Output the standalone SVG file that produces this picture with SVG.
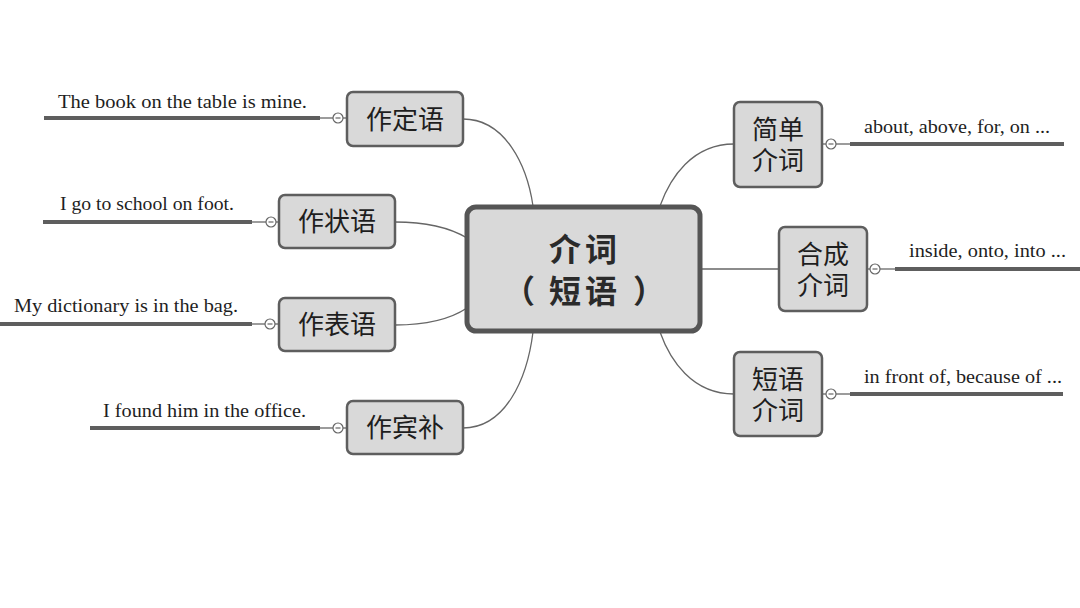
<svg xmlns="http://www.w3.org/2000/svg" width="1080" height="608" viewBox="0 0 1080 608">
<style>
.bg{fill:#ffffff}
.node rect{fill:#d9d9d9;stroke:#5e5e5e;stroke-width:2.5}
.root rect{fill:#d9d9d9;stroke:#555555;stroke-width:5}
.cn{font-family:"Noto Sans CJK SC","Noto Sans CJK JP",sans-serif;font-size:26px;fill:#1e1e1e;text-anchor:middle}
.rt{font-family:"Noto Sans CJK SC","Noto Sans CJK JP",sans-serif;font-size:32px;font-weight:bold;fill:#2a2a2a;text-anchor:middle}
.en{font-family:"Liberation Serif","DejaVu Serif",serif;font-size:18px;fill:#1e1e1e}
.conn path,.conn line{fill:none;stroke:#666666;stroke-width:1.3}
.bar{stroke:#5e5e5e;stroke-width:4}
.tog circle{fill:#ffffff;stroke:#666666;stroke-width:1.2}
.tog line{stroke:#666666;stroke-width:1.2}
</style>
<rect class="bg" x="0" y="0" width="1080" height="608"/>

<g id="connectors" class="conn">
  <path d="M463,119 C505,119 527,165 533,206"/>
  <path d="M395,222 C430,222 452,229 467,238"/>
  <path d="M395,325 C430,325 452,318 467,308"/>
  <path d="M463,428 C505,428 527,380 533,332"/>
  <path d="M734,144 C692,144 670,178 660,206"/>
  <line x1="701" y1="269" x2="779" y2="269"/>
  <path d="M734,394 C692,394 670,360 660,332"/>
  <line x1="343" y1="118" x2="347" y2="118"/>
  <line x1="276" y1="222" x2="279" y2="222"/>
  <line x1="275" y1="324" x2="279" y2="324"/>
  <line x1="343" y1="428" x2="347" y2="428"/>
  <line x1="822" y1="144" x2="826" y2="144"/>
  <line x1="867" y1="269" x2="870" y2="269"/>
  <line x1="822" y1="394" x2="826" y2="394"/>
  <line x1="320" y1="118" x2="333" y2="118"/>
  <line x1="252" y1="222" x2="266" y2="222"/>
  <line x1="252" y1="324" x2="265" y2="324"/>
  <line x1="320" y1="428" x2="333" y2="428"/>
  <line x1="836" y1="144" x2="850" y2="144"/>
  <line x1="880" y1="269" x2="895" y2="269"/>
  <line x1="836" y1="394" x2="850" y2="394"/>
</g>

<g id="root" class="root">
  <rect x="467" y="207" width="233" height="124" rx="9"/>
  <text class="rt"><tspan x="585" y="261" letter-spacing="4">介词</tspan><tspan x="519" y="303">（</tspan><tspan x="585" y="303" letter-spacing="4">短语</tspan><tspan x="649" y="303">）</tspan></text>
</g>

<g id="n-dingyu" class="node">
  <rect x="347" y="92" width="116" height="54" rx="6"/>
  <text class="cn" x="405" y="129">作定语</text>
</g>
<g id="n-dingyu-leaf">
  <line class="bar" x1="44" y1="118" x2="320" y2="118"/>
  <text class="en" x="58" y="108" textLength="249" lengthAdjust="spacingAndGlyphs">The book on the table is mine.</text>
  <g class="tog"><circle cx="338" cy="118" r="5"/><line x1="335.5" y1="118" x2="340.5" y2="118"/></g>
</g>

<g id="n-zhuangyu" class="node">
  <rect x="279" y="195" width="116" height="53" rx="6"/>
  <text class="cn" x="337" y="231">作状语</text>
</g>
<g id="n-zhuangyu-leaf">
  <line class="bar" x1="43" y1="222" x2="252" y2="222"/>
  <text class="en" x="60" y="210" textLength="174" lengthAdjust="spacingAndGlyphs">I go to school on foot.</text>
  <g class="tog"><circle cx="271" cy="222" r="5"/><line x1="268.5" y1="222" x2="273.5" y2="222"/></g>
</g>

<g id="n-biaoyu" class="node">
  <rect x="279" y="298" width="116" height="53" rx="6"/>
  <text class="cn" x="337" y="334">作表语</text>
</g>
<g id="n-biaoyu-leaf">
  <line class="bar" x1="0" y1="324" x2="252" y2="324"/>
  <text class="en" x="14" y="312" textLength="224" lengthAdjust="spacingAndGlyphs">My dictionary is in the bag.</text>
  <g class="tog"><circle cx="270" cy="324" r="5"/><line x1="267.5" y1="324" x2="272.5" y2="324"/></g>
</g>

<g id="n-binbu" class="node">
  <rect x="347" y="401" width="116" height="53" rx="6"/>
  <text class="cn" x="405" y="437">作宾补</text>
</g>
<g id="n-binbu-leaf">
  <line class="bar" x1="90" y1="428" x2="320" y2="428"/>
  <text class="en" x="103" y="417" textLength="203" lengthAdjust="spacingAndGlyphs">I found him in the office.</text>
  <g class="tog"><circle cx="338" cy="428" r="5"/><line x1="335.5" y1="428" x2="340.5" y2="428"/></g>
</g>

<g id="n-jiandan" class="node">
  <rect x="734" y="102" width="88" height="85" rx="6"/>
  <text class="cn"><tspan x="778" y="139">简单</tspan><tspan x="778" y="170">介词</tspan></text>
</g>
<g id="n-jiandan-leaf">
  <line class="bar" x1="850" y1="144" x2="1064" y2="144"/>
  <text class="en" x="864" y="133" textLength="186" lengthAdjust="spacingAndGlyphs">about, above, for, on ...</text>
  <g class="tog"><circle cx="831" cy="144" r="5"/><line x1="828.5" y1="144" x2="833.5" y2="144"/></g>
</g>

<g id="n-hecheng" class="node">
  <rect x="779" y="227" width="88" height="84" rx="6"/>
  <text class="cn"><tspan x="823" y="264">合成</tspan><tspan x="823" y="295">介词</tspan></text>
</g>
<g id="n-hecheng-leaf">
  <line class="bar" x1="895" y1="269" x2="1080" y2="269"/>
  <text class="en" x="909" y="257" textLength="157" lengthAdjust="spacingAndGlyphs">inside, onto, into ...</text>
  <g class="tog"><circle cx="875" cy="269" r="5"/><line x1="872.5" y1="269" x2="877.5" y2="269"/></g>
</g>

<g id="n-duanyu" class="node">
  <rect x="734" y="352" width="88" height="84" rx="6"/>
  <text class="cn"><tspan x="778" y="389">短语</tspan><tspan x="778" y="420">介词</tspan></text>
</g>
<g id="n-duanyu-leaf">
  <line class="bar" x1="850" y1="394" x2="1063" y2="394"/>
  <text class="en" x="864" y="383" textLength="198" lengthAdjust="spacingAndGlyphs">in front of, because of ...</text>
  <g class="tog"><circle cx="831" cy="394" r="5"/><line x1="828.5" y1="394" x2="833.5" y2="394"/></g>
</g>
</svg>
